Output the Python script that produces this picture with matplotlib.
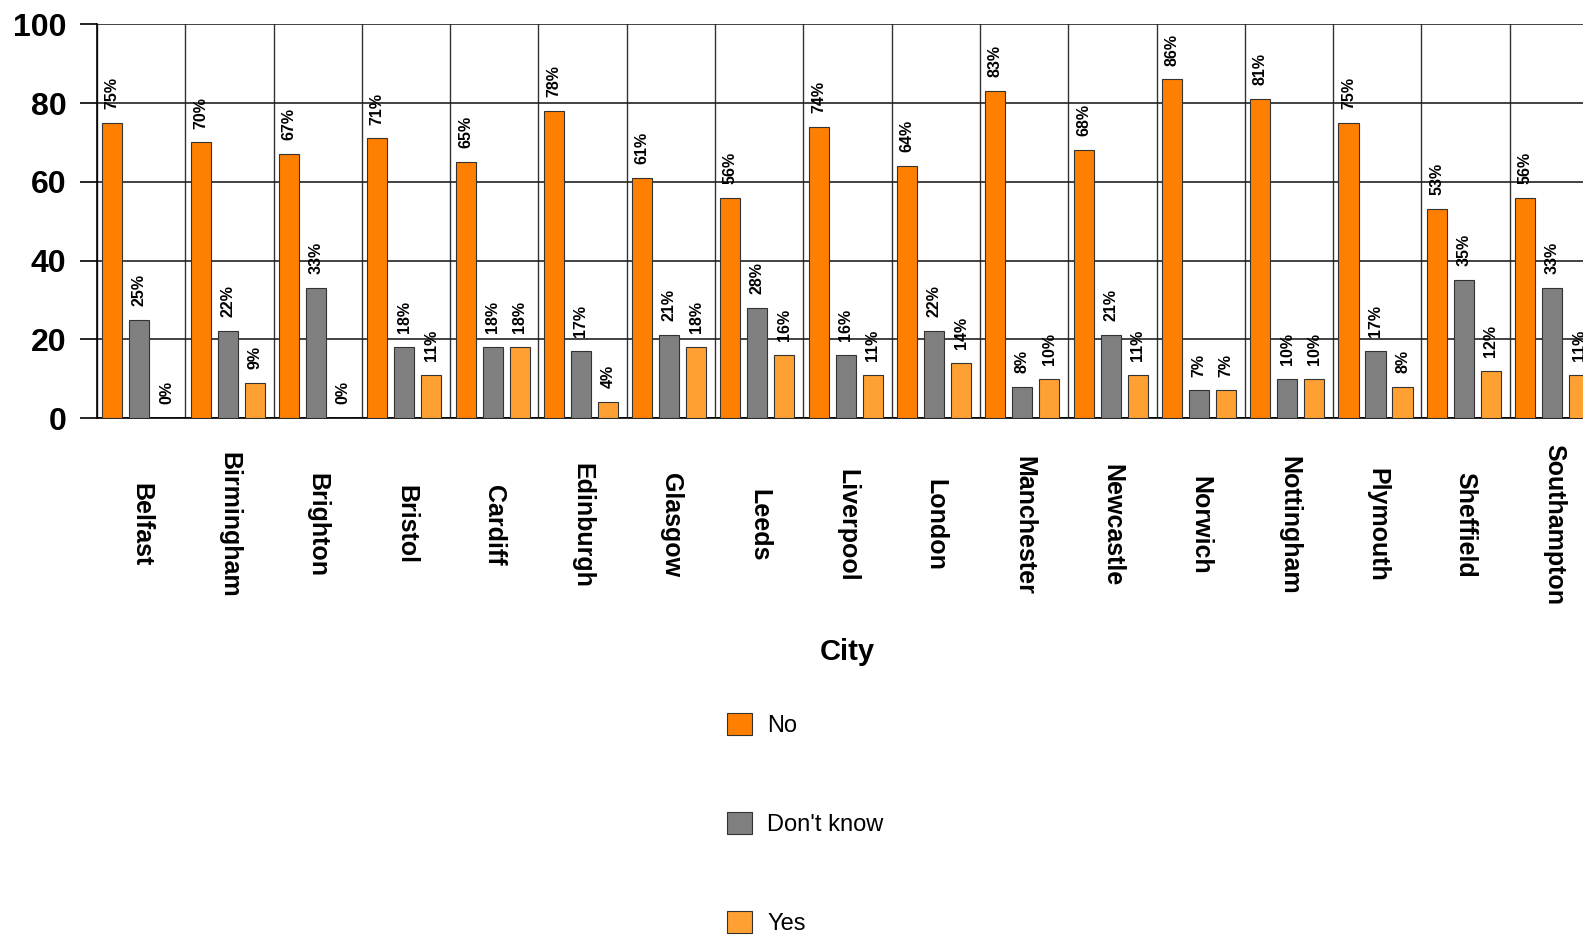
import numpy as np
import matplotlib
matplotlib.use("Agg")
import matplotlib.pyplot as plt
from matplotlib.patches import Patch

plt.rcParams['font.family'] = ['Liberation Sans', 'DejaVu Sans']

cities = ["Belfast", "Birmingham", "Brighton", "Bristol", "Cardiff", "Edinburgh",
          "Glasgow", "Leeds", "Liverpool", "London", "Manchester", "Newcastle",
          "Norwich", "Nottingham", "Plymouth", "Sheffield", "Southampton"]
no_vals = [75, 70, 67, 71, 65, 78, 61, 56, 74, 64, 83, 68, 86, 81, 75, 53, 56]
dont_know = [25, 22, 33, 18, 18, 17, 21, 28, 16, 22, 8, 21, 7, 10, 17, 35, 33]
yes_vals = [0, 9, 0, 11, 18, 4, 18, 16, 11, 14, 10, 11, 7, 10, 8, 12, 11]

series = [("No", no_vals, "#FF8000"),
          ("Don't know", dont_know, "#808080"),
          ("Yes", yes_vals, "#FFA033")]

fig = plt.figure(figsize=(15.83, 9.35), dpi=100)
# axes runs a little past the right edge, like the original screenshot
ax = fig.add_axes([97 / 1583, 517 / 935, 1501 / 1583, 393.7 / 935])

x = np.arange(len(cities))
width = 0.227
offsets = [-0.306, 0.0, 0.306]

for (name, vals, color), off in zip(series, offsets):
    bars = ax.bar(x + 0.48 + off, vals, width, color=color, edgecolor="#333333",
                  linewidth=0.8, zorder=3, label=name)
    for b, v in zip(bars, vals):
        ax.annotate(f"{v}%", (b.get_x() + b.get_width() / 2, v),
                    xytext=(0, 10), textcoords="offset points",
                    ha="center", va="bottom", rotation=90,
                    fontsize=11.5, fontweight="bold", zorder=4)

ax.set_xlim(0, len(cities))
ax.set_ylim(0, 100)
ax.set_yticks([0, 20, 40, 60, 80, 100])
ax.tick_params(axis="y", length=12, width=1.2, pad=10, labelsize=23)
for lab in ax.get_yticklabels():
    lab.set_fontweight("bold")

ax.set_xticks(x + 0.5)
ax.set_xticklabels(cities, rotation=270, va="center", ha="center",
                   fontsize=18, fontweight="bold")
ax.tick_params(axis="x", which="major", length=0, pad=77)
ax.set_xticks(np.arange(len(cities) + 1), minor=True)
ax.tick_params(axis="x", which="minor", length=0)

ax.grid(axis="y", which="major", color="#222222", linewidth=1.2, zorder=0)
ax.grid(axis="x", which="minor", color="#333333", linewidth=1.0, zorder=0)

for s in ["top", "right"]:
    ax.spines[s].set_visible(False)
ax.spines["left"].set_linewidth(1.2)
ax.spines["bottom"].set_linewidth(1.2)

ax.set_xlabel("City", fontsize=21, fontweight="bold", va="center")
ax.xaxis.set_label_coords(0.5, -0.595)

handles = [Patch(facecolor=c, edgecolor="#333333", linewidth=0.8) for _, _, c in series]
fig.legend(handles, [n for n, _, _ in series], loc="upper left",
           bbox_to_anchor=(727 / 1583, 1 - 713 / 935), frameon=False,
           fontsize=17, borderpad=0, borderaxespad=0, handlelength=1.06,
           handleheight=1.06, handletextpad=0.64, labelspacing=3.17)

fig.savefig("out.png", dpi=100)
